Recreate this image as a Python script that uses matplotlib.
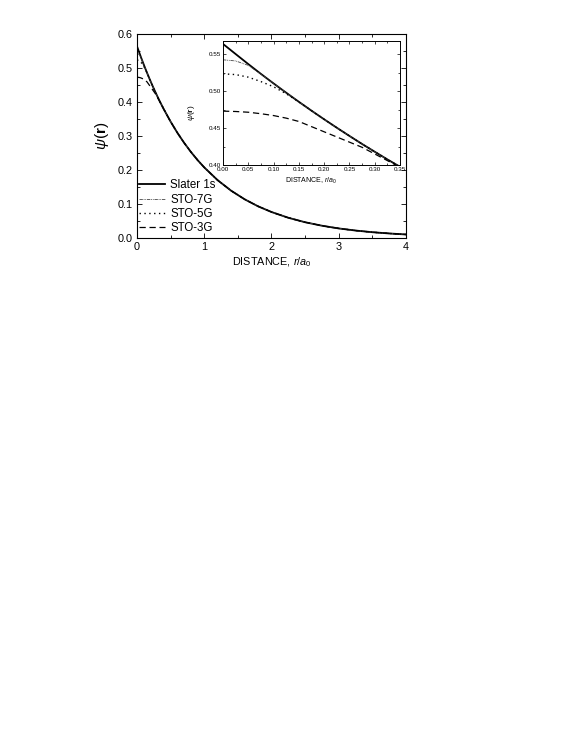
# Slater 1s orbital vs STO-nG fits, with a zoomed inset near the nucleus
import matplotlib.pyplot as plt
from matplotlib.ticker import MultipleLocator, FormatStrFormatter

plt.rcParams['font.family'] = ['Liberation Sans', 'DejaVu Sans']
plt.rcParams['mathtext.fontset'] = 'custom'
plt.rcParams['mathtext.rm'] = 'Liberation Sans'
plt.rcParams['mathtext.it'] = 'Liberation Sans:italic'
plt.rcParams['mathtext.bf'] = 'Liberation Sans:bold'

# Data
r = [0, 0.025, 0.05, 0.075, 0.1, 0.125, 0.15, 0.175, 0.2, 0.225, 0.25, 0.275,
     0.3, 0.325, 0.35, 0.4, 0.5, 0.6, 0.7, 0.8, 0.9, 1.0, 1.2, 1.4, 1.6, 1.8,
     2.0, 2.25, 2.5, 2.75, 3.0, 3.25, 3.5, 3.75, 4.0]
tail = [0.3782, 0.3422, 0.3096, 0.2802, 0.2535, 0.2294, 0.2076, 0.1699, 0.1391,
        0.1139, 0.0932, 0.0764, 0.0595, 0.0463, 0.0361, 0.0281, 0.0219, 0.0170,
        0.0133, 0.0103]
slater = [0.564, 0.5503, 0.5367, 0.5234, 0.5105, 0.4979, 0.4856, 0.4736, 0.4619,
          0.4505, 0.4394, 0.4285, 0.4180, 0.4076, 0.3976] + tail
sto7g = [0.5425, 0.541, 0.535, 0.523, 0.5105, 0.4979, 0.4856, 0.4736, 0.4619,
         0.4505, 0.4394, 0.4285, 0.4180, 0.4076, 0.3976] + tail
sto5g = [0.5235, 0.5225, 0.519, 0.513, 0.506, 0.4965, 0.4855, 0.4736, 0.4619,
         0.4505, 0.4394, 0.4285, 0.4180, 0.4076, 0.3976] + tail
sto3g = [0.473, 0.4725, 0.4715, 0.4695, 0.467, 0.4635, 0.459, 0.452, 0.445,
         0.438, 0.431, 0.424, 0.415, 0.406, 0.397] + tail

labels = ['Slater 1s', 'STO-7G', 'STO-5G', 'STO-3G']
series = [slater, sto7g, sto5g, sto3g]
styles = [dict(color='black', lw=1.3, ls='-'),
          dict(color='#444444', lw=0.6, ls=(0, (4, 1, 1, 1, 1, 1))),
          dict(color='black', lw=1.0, ls=(0, (1, 2.5))),
          dict(color='black', lw=0.9, ls=(0, (5, 3)))]

fig = plt.figure(figsize=(5.72, 7.4), dpi=100)

# main axes
ax = fig.add_axes([0.2395, 0.6784, 0.4703, 0.2756])
for y, lab, st in zip(series, labels, styles):
    ax.plot(r, y, label=lab, **st)
ax.set_xlim(0, 4)
ax.set_ylim(0, 0.6)
ax.xaxis.set_major_locator(MultipleLocator(1))
ax.xaxis.set_minor_locator(MultipleLocator(0.5))
ax.yaxis.set_major_locator(MultipleLocator(0.1))
ax.yaxis.set_minor_locator(MultipleLocator(0.05))
ax.yaxis.set_major_formatter(FormatStrFormatter('%.1f'))
ax.tick_params(which='both', direction='in', top=True, right=True, labelsize=7.8, width=0.6)
ax.tick_params(which='major', length=3.5, pad=3)
ax.tick_params(which='minor', length=2)
for s in ax.spines.values():
    s.set_linewidth(0.8)
ax.set_xlabel(r'DISTANCE, $r/a_0$', fontsize=7.8, labelpad=2)
ax.set_ylabel(r'$\psi(\mathbf{r})$', fontsize=11, labelpad=5)
ax.legend(loc='lower left', bbox_to_anchor=(0, 0.01), frameon=False, fontsize=8.3,
          handlelength=2.3, handletextpad=0.45, labelspacing=0.2, borderaxespad=0,
          borderpad=0.15)

# inset
axi = fig.add_axes([0.3899, 0.777, 0.3094, 0.1676])
for y, st in zip(series, styles):
    axi.plot(r, y, **st)
axi.set_xlim(0, 0.35)
axi.set_ylim(0.40, 0.568)
axi.xaxis.set_major_locator(MultipleLocator(0.05))
axi.xaxis.set_minor_locator(MultipleLocator(0.025))
axi.yaxis.set_major_locator(MultipleLocator(0.05))
axi.yaxis.set_minor_locator(MultipleLocator(0.025))
axi.xaxis.set_major_formatter(FormatStrFormatter('%.2f'))
axi.yaxis.set_major_formatter(FormatStrFormatter('%.2f'))
axi.tick_params(which='both', direction='in', top=True, right=True, labelsize=4.5, width=0.5, pad=1.5)
axi.tick_params(which='major', length=2.5)
axi.tick_params(which='minor', length=1.5)
for s in axi.spines.values():
    s.set_linewidth(0.7)
axi.set_xlabel(r'DISTANCE, $r/a_0$', fontsize=5, labelpad=3)
axi.set_ylabel(r'$\psi(\mathbf{r})$', fontsize=6)
axi.yaxis.set_label_coords(-0.145, 0.42)

fig.savefig('out.png', dpi=100)
